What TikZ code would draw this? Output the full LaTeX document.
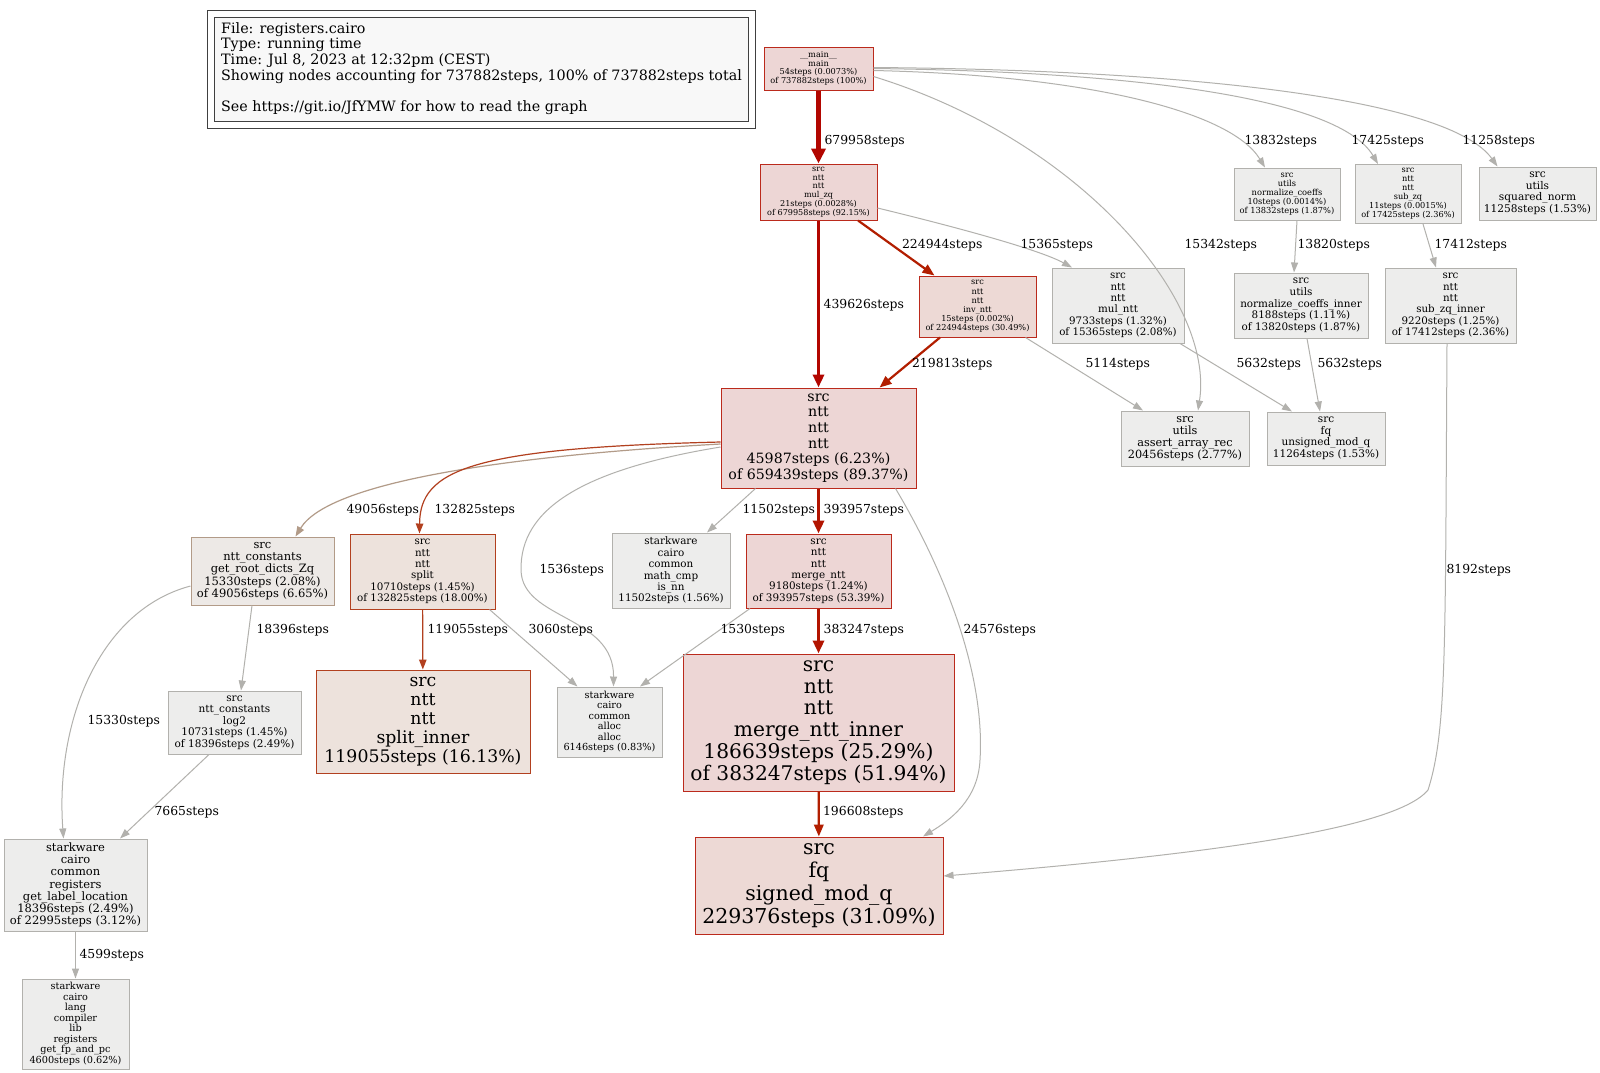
\documentclass[tikz,border=0pt]{standalone}
\usepackage{fontspec}
\setmainfont{DejaVu Serif}
\usepackage{xcolor}
\usepackage{tikz}
\usetikzlibrary{arrows.meta}

\definecolor{hotfill}{HTML}{EDD6D5}
\definecolor{warmfill}{HTML}{EDD9D5}
\definecolor{splitfill}{HTML}{EDE2DC}
\definecolor{tanfill}{HTML}{EDE9E6}
\definecolor{greyfill}{HTML}{EDEDEC}
\definecolor{legfill}{HTML}{F8F8F8}
\definecolor{hotline}{HTML}{B20600}
\definecolor{boxline}{HTML}{BB2A1C}
\definecolor{redline}{HTML}{B21400}
\definecolor{warmline}{HTML}{B21E00}
\definecolor{splitline}{HTML}{B2401F}
\definecolor{tanline}{HTML}{B29B88}
\definecolor{greyline}{HTML}{B2B1AD}

\begin{document}
\begin{tikzpicture}[x=1pt, y=-1pt,
    box/.style={draw, rectangle, inner sep=0pt, align=center, line width=1pt},
    sz/.style 2 args={minimum width=#1, minimum height=#2},
    fs/.style 2 args={font=\fontsize{#1}{#2}\selectfont},
    hot/.style={box, fill=hotfill, draw=boxline},
    warm/.style={box, fill=warmfill, draw=boxline},
    orange/.style={box, fill=splitfill, draw=splitline},
    tan/.style={box, fill=tanfill, draw=tanline},
    grey/.style={box, fill=greyfill, draw=greyline},
    lbl/.style={font=\fontsize{12.4}{14}\selectfont, anchor=west, inner sep=0pt, text=black},
    call/.style={draw=greyline, line width=1pt, -{Triangle[length=10pt, width=7pt]}},
    warmcall/.style={draw=#1, line width=1.2pt, -{Triangle[length=10pt, width=7.5pt]}},
    heavy/.style={draw=#1, line width=3.3pt, -{Triangle[length=13pt, width=11pt]}},
    medium/.style={draw=#1, line width=2.2pt, -{Triangle[length=12pt, width=9.5pt]}},
  ]
  \useasboundingbox[fill=white] (0,0) rectangle (1600,1072);

  % legend
  \node[draw=black!75, line width=0.8pt, sz={548}{118}] (legout) at (481,69) {};
  \node[draw=black!75, line width=0.8pt, fill=legfill, sz={534}{104}] (legin) at (481,69) {};
  \node[anchor=north west, align=left, inner sep=0pt, font=\fontsize{14.3}{15.7}\selectfont] (legend) at (221,22)
    {File: registers.cairo\\Type: running time\\Time: Jul 8, 2023 at 12:32pm (CEST)\\
     Showing nodes accounting for 737882steps, 100\% of 737882steps total\\[15.7pt]
     See https://git.io/JfYMW for how to read the graph};

  % top rows
  \node[hot, fs={8.2}{8.5}, sz={109}{43}] (main) at (818.5,68.5)
    {\_\_main\_\_\\main\\54steps (0.0073\%)\\of 737882steps (100\%)};
  \node[hot, fs={8.1}{8.8}, sz={117}{56}] (mulzq) at (818.5,192)
    {src\\ntt\\ntt\\mul\_zq\\21steps (0.0028\%)\\of 679958steps (92.15\%)};
  \node[grey, fs={8.3}{9}, sz={106}{52}] (normcoeffs) at (1287,194)
    {src\\utils\\normalize\_coeffs\\10steps (0.0014\%)\\of 13832steps (1.87\%)};
  \node[grey, fs={8.2}{9}, sz={106}{59}] (subzq) at (1408,194)
    {src\\ntt\\ntt\\sub\_zq\\11steps (0.0015\%)\\of 17425steps (2.36\%)};
  \node[grey, fs={10.6}{11.5}, sz={117}{53}] (sqnorm) at (1537.5,193.5)
    {src\\utils\\squared\_norm\\11258steps (1.53\%)};
  \node[warm, fs={8.2}{9.2}, sz={117}{61}] (invntt) at (977.5,306.5)
    {src\\ntt\\ntt\\inv\_ntt\\15steps (0.002\%)\\of 224944steps (30.49\%)};
  \node[grey, fs={10.3}{11.4}, sz={132}{75}] (mulntt) at (1118,305.5)
    {src\\ntt\\ntt\\mul\_ntt\\9733steps (1.32\%)\\of 15365steps (2.08\%)};
  \node[grey, fs={10.4}{11.7}, sz={134}{65}] (normin) at (1301,305.5)
    {src\\utils\\normalize\_coeffs\_inner\\8188steps (1.11\%)\\of 13820steps (1.87\%)};
  \node[grey, fs={10.3}{11.4}, sz={131}{75}] (subzqin) at (1450.5,305.5)
    {src\\ntt\\ntt\\sub\_zq\_inner\\9220steps (1.25\%)\\of 17412steps (2.36\%)};

  % middle
  \node[hot, fs={14.2}{15.7}, sz={195}{100}] (ntt) at (818.5,438)
    {src\\ntt\\ntt\\ntt\\45987steps (6.23\%)\\of 659439steps (89.37\%)};
  \node[grey, fs={11.3}{12}, sz={128}{55}] (assertrec) at (1185,438.5)
    {src\\utils\\assert\_array\_rec\\20456steps (2.77\%)};
  \node[grey, fs={10.5}{11.5}, sz={118}{53}] (unsmodq) at (1326,438.5)
    {src\\fq\\unsigned\_mod\_q\\11264steps (1.53\%)};
  \node[tan, fs={11.5}{12.2}, sz={143}{68}] (rootdicts) at (262.5,571)
    {src\\ntt\_constants\\get\_root\_dicts\_Zq\\15330steps (2.08\%)\\of 49056steps (6.65\%)};
  \node[orange, fs={10.3}{11.4}, sz={145}{75}] (split) at (422.5,571.5)
    {src\\ntt\\ntt\\split\\10710steps (1.45\%)\\of 132825steps (18.00\%)};
  \node[grey, fs={10.4}{11.4}, sz={118}{75}] (mathcmp) at (671,570.5)
    {starkware\\cairo\\common\\math\_cmp\\is\_nn\\11502steps (1.56\%)};
  \node[hot, fs={10.4}{11.4}, sz={145}{74}] (mergentt) at (818.5,571)
    {src\\ntt\\ntt\\merge\_ntt\\9180steps (1.24\%)\\of 393957steps (53.39\%)};

  % lower rows
  \node[grey, fs={10.5}{11.4}, sz={133}{63}] (log2) at (234.5,722.5)
    {src\\ntt\_constants\\log2\\10731steps (1.45\%)\\of 18396steps (2.49\%)};
  \node[orange, fs={17.3}{19.1}, sz={214}{103}] (splitin) at (423,721.5)
    {src\\ntt\\ntt\\split\_inner\\119055steps (16.13\%)};
  \node[grey, fs={9.7}{10.5}, sz={105}{70}] (alloc) at (609.5,722)
    {starkware\\cairo\\common\\alloc\\alloc\\6146steps (0.83\%)};
  \node[hot, fs={20.2}{21.7}, sz={271}{137}] (mergein) at (818.5,722.5)
    {src\\ntt\\ntt\\merge\_ntt\_inner\\186639steps (25.29\%)\\of 383247steps (51.94\%)};
  \node[grey, fs={11.5}{12.2}, sz={143}{92}] (labelloc) at (75.5,885)
    {starkware\\cairo\\common\\registers\\get\_label\_location\\18396steps (2.49\%)\\of 22995steps (3.12\%)};
  \node[warm, fs={20.5}{22.8}, sz={248}{97}] (sgnmodq) at (819,885.5)
    {src\\fq\\signed\_mod\_q\\229376steps (31.09\%)};
  \node[grey, fs={9.7}{10.5}, sz={107}{90}] (fppc) at (75.5,1024)
    {starkware\\cairo\\lang\\compiler\\lib\\registers\\get\_fp\_and\_pc\\4600steps (0.62\%)};

  % calls out of main
  \draw[draw=hotline, line width=5pt, -{Triangle[length=15pt, width=14pt]}] (main) -- (mulzq)
    node[lbl] at (822,141) {679958steps};
  \draw[call] ([yshift=-2pt]main.east) .. controls (1080,75) and (1230,110) .. ([xshift=-22pt]normcoeffs.north)
    node[lbl] at (1244,141) {13832steps};
  \draw[call] (main.east) .. controls (1150,72) and (1340,100) .. ([xshift=-30pt]subzq.north)
    node[lbl] at (1351,141) {17425steps};
  \draw[call] ([yshift=1pt]main.east) .. controls (1200,70) and (1450,100) .. ([xshift=-40pt]sqnorm.north)
    node[lbl] at (1462,141) {11258steps};
  \draw[call] ([yshift=-8pt]main.east) .. controls (1080,140) and (1215,300) .. ([xshift=13pt]assertrec.north)
    node[lbl] at (1184,245) {15342steps};

  % mul_zq and friends
  \draw[medium=warmline] (mulzq) -- (invntt)
    node[lbl] at (901,245) {224944steps};
  \draw[call] ([yshift=-16pt]mulzq.east) .. controls (960,228) and (1040,250) .. ([xshift=-46pt]mulntt.north)
    node[lbl] at (1020,245) {15365steps};
  \draw[heavy=hotline] (mulzq) -- (ntt)
    node[lbl] at (822,305) {439626steps};
  \draw[call] ([xshift=10pt]normcoeffs.south) -- ([xshift=-7pt]normin.north)
    node[lbl] at (1297,245) {13820steps};
  \draw[call] ([xshift=15pt]subzq.south) -- ([xshift=-14.5pt]subzqin.north)
    node[lbl] at (1434,245) {17412steps};
  \draw[medium=warmline] (invntt) -- (ntt)
    node[lbl] at (911,364) {219813steps};
  \draw[call] ([xshift=48pt]invntt.south) -- ([xshift=-42pt]assertrec.north)
    node[lbl] at (1085,364) {5114steps};
  \draw[call] ([xshift=62pt]mulntt.south) -- ([xshift=-34pt]unsmodq.north)
    node[lbl] at (1236,364) {5632steps};
  \draw[call] ([xshift=6pt]normin.south) -- ([xshift=-6pt]unsmodq.north)
    node[lbl] at (1317,364) {5632steps};
  \draw[call] ([xshift=-3.5pt]subzqin.south) .. controls (1445,650) and (1447,730) .. (1428,790)
    .. controls (1395,830) and (1200,855) .. ([yshift=9.5pt]sgnmodq.east)
    node[lbl] at (1446,570) {8192steps};

  % out of ntt
  \draw[warmcall=tanline] ([yshift=-6pt]ntt.west) .. controls (520,455) and (330,480) .. ([xshift=33pt]rootdicts.north)
    node[lbl] at (346,510) {49056steps};
  \draw[warmcall=splitline] ([yshift=-4pt]ntt.west) .. controls (470,448) and (420,470) .. ([xshift=-3pt]split.north)
    node[lbl] at (434,510) {132825steps};
  \draw[call] ([xshift=-63pt]ntt.south) -- ([xshift=36pt]mathcmp.north)
    node[lbl] at (742,510) {11502steps};
  \draw[heavy=redline] (ntt) -- (mergentt)
    node[lbl] at (822,510) {393957steps};
  \draw[call] ([yshift=-9pt]ntt.west) .. controls (580,470) and (520,510) .. (521,570)
    .. controls (522,620) and (614,615) .. ([xshift=4pt]alloc.north)
    node[lbl] at (539,570) {1536steps};
  \draw[call] ([xshift=77pt]ntt.south) .. controls (950,580) and (985,680) .. (980,760)
    .. controls (978,800) and (950,820) .. ([xshift=104pt]sgnmodq.north)
    node[lbl] at (963,630) {24576steps};

  % lower calls
  \draw[call] ([xshift=-10.5pt]rootdicts.south) -- ([xshift=6.5pt]log2.north)
    node[lbl] at (256,630) {18396steps};
  \draw[call] ([yshift=-15pt]rootdicts.west) .. controls (100,610) and (55,720) .. ([xshift=-12pt]labelloc.north)
    node[lbl] at (87,721) {15330steps};
  \draw[warmcall=splitline] (split) -- (splitin)
    node[lbl] at (427,630) {119055steps};
  \draw[call] ([xshift=67pt]split.south) -- ([xshift=-32pt]alloc.north)
    node[lbl] at (528,630) {3060steps};
  \draw[call] ([xshift=-68.5pt]mergentt.south) -- ([xshift=30.5pt]alloc.north)
    node[lbl] at (720,630) {1530steps};
  \draw[heavy=redline] (mergentt) -- (mergein)
    node[lbl] at (822,630) {383247steps};
  \draw[call] ([xshift=-25.5pt]log2.south) -- ([xshift=44.5pt]labelloc.north)
    node[lbl] at (154,812) {7665steps};
  \draw[medium=warmline] (mergein) -- (sgnmodq)
    node[lbl] at (822,812) {196608steps};
  \draw[call] (labelloc) -- (fppc)
    node[lbl] at (79,955) {4599steps};
\end{tikzpicture}
\end{document}
